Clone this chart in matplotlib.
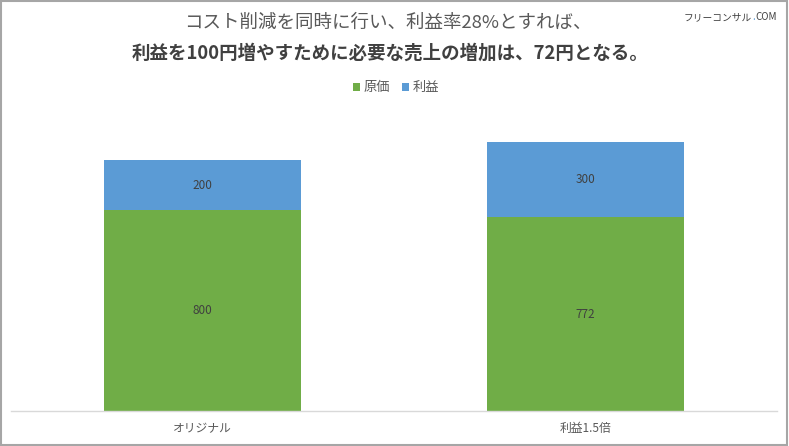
import matplotlib
matplotlib.use("Agg")
import matplotlib.pyplot as plt
from matplotlib.patches import Rectangle

plt.rcParams['font.family'] = ['Noto Sans CJK JP', 'DejaVu Sans']

categories = ['オリジナル', '利益1.5倍']
cost = [800, 772]
profit = [200, 300]
series_names = ['原価', '利益']
colors = ['#70AD47', '#5B9BD5']
title1 = 'コスト削減を同時に行い、利益率28%とすれば、'
title2 = '利益を100円増やすために必要な売上の増加は、72円となる。'

W, H = 789, 446
fig = plt.figure(figsize=(W / 100, H / 100), dpi=100)
ax = fig.add_axes([11 / W, (H - 411) / H, (777 - 11) / W, (411 - 110) / H])

x = range(len(categories))
b1 = ax.bar(x, cost, width=0.512, color=colors[0], label=series_names[0], zorder=2)
b2 = ax.bar(x, profit, width=0.512, bottom=cost, color=colors[1], label=series_names[1], zorder=2)

for bars, vals, bottoms in [(b1, cost, [0] * len(cost)), (b2, profit, cost)]:
    for rect, v, b in zip(bars, vals, bottoms):
        ax.text(rect.get_x() + rect.get_width() / 2, b + v / 2, f'{v}',
                ha='center', va='center', fontsize=8.5, color='#404040')

ax.set_xlim(-0.5, 1.5)
ax.set_ylim(0, 1200)
ax.set_yticks([])
ax.set_xticks(list(x))
ax.set_xticklabels(categories, fontsize=8.5, color='#595959')
ax.tick_params(axis='x', length=0, pad=8)
for s in ['top', 'right', 'left']:
    ax.spines[s].set_visible(False)
ax.spines['bottom'].set_color('#D9D9D9')
ax.spines['bottom'].set_linewidth(1)

fig.text(388 / W, 1 - 23 / H, title1, ha='center', va='center', fontsize=13.3, color='#595959')
fig.text(390 / W, 1 - 53 / H, title2, ha='center', va='center', fontsize=13.3,
         color='#404040', fontweight='bold')

leg = fig.legend(handles=[b1, b2], labels=series_names, loc='center',
                 bbox_to_anchor=(396 / W, 1 - 88 / H), ncol=2, frameon=False,
                 fontsize=9.5, handlelength=0.55, handleheight=0.55, handletextpad=0.25,
                 columnspacing=0.9)
for t in leg.get_texts():
    t.set_color('#595959')

# watermark
fig.text(752 / W, 1 - 17 / H, 'フリーコンサル', ha='right', va='center',
         fontsize=7, color='#404040')
fig.text(752 / W, 1 - 17 / H, '.', ha='left', va='center', fontsize=7, color='#5B9BD5')
fig.text(755 / W, 1 - 17 / H, 'COM', ha='left', va='center', fontsize=7, color='#404040')

fig.patches.append(Rectangle((0.001, 0.002), 0.997, 0.996, transform=fig.transFigure,
                             fill=False, edgecolor='#A6A6A6', linewidth=1.5))

fig.savefig('out.png', dpi=100)
